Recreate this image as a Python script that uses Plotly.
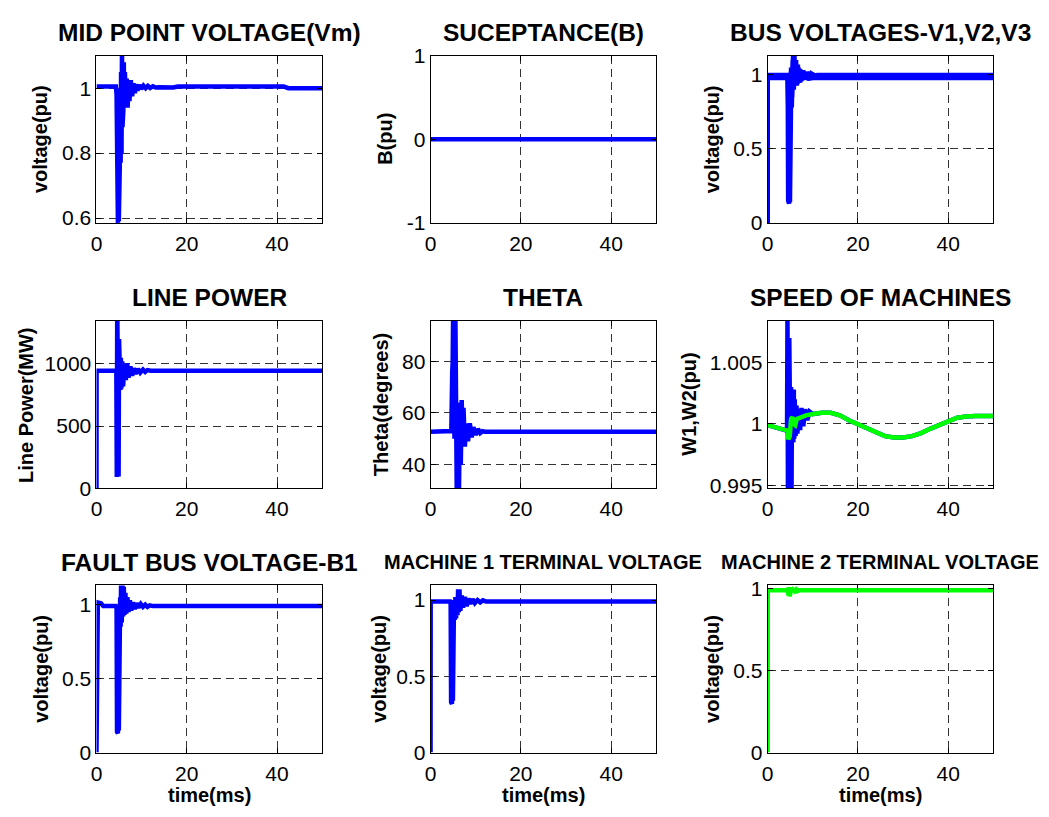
import plotly.graph_objects as go

# ---------------------------------------------------------------
# Simulation traces (time in ms, values per panel)
# ---------------------------------------------------------------
mid_point_v = [(0, 1.005), (4.3, 1.005), (4.45, 0.98), (4.55, 0.60), (4.65, 0.97), (4.75, 0.585),
               (4.85, 0.99), (4.95, 0.59), (5.05, 0.80), (5.15, 0.75), (5.25, 1.00), (5.35, 0.77),
               (5.45, 1.05), (5.55, 0.80), (5.65, 1.12), (5.75, 0.88), (5.85, 1.12), (5.95, 0.93),
               (6.05, 1.08), (6.15, 0.95), (6.3, 1.05), (6.5, 0.94), (6.7, 1.03), (6.9, 0.94),
               (7.1, 1.02), (7.3, 0.96), (7.6, 1.025), (7.9, 0.975), (8.2, 1.015), (8.5, 0.985),
               (8.8, 1.012), (9.1, 0.993), (9.5, 1.010), (9.9, 0.998), (10.4, 1.008), (10.9, 1.000),
               (11.4, 1.007), (11.9, 1.001), (12.5, 1.006), (13.1, 1.002), (13.8, 1.003), (17.0, 1.002),
               (18.0, 1.005), (41.5, 1.005), (42.5, 1.0), (50, 1.0)]

susceptance = [(0, 0.0), (50, 0.0)]

bus_v1 = [(0, 0), (0.02, 1.0), (4.3, 1.0), (4.45, 0.98), (4.55, 0.15), (4.65, 0.9), (4.75, 0.13),
          (4.85, 0.95), (4.95, 0.14), (5.05, 0.8), (5.15, 0.76), (5.25, 1.0), (5.35, 0.78),
          (5.45, 1.1), (5.55, 0.85), (5.65, 1.15), (5.8, 0.92), (5.95, 1.13), (6.1, 0.93),
          (6.3, 1.1), (6.5, 0.93), (6.7, 1.07), (6.9, 0.95), (7.2, 1.04), (7.5, 0.96),
          (7.9, 1.03), (8.3, 0.975), (8.7, 1.02), (9.1, 0.985), (9.6, 1.01), (10.2, 0.995),
          (11, 1.0), (50, 1.0)]
bus_v2 = [(0, 0), (0.02, 0.99), (4.4, 0.99), (4.6, 0.75), (4.8, 1.0), (5.0, 0.76), (5.2, 1.05),
          (5.4, 0.85), (5.6, 1.1), (5.8, 0.9), (6.1, 1.08), (6.4, 0.93), (6.8, 1.05), (7.2, 0.95),
          (7.7, 1.03), (8.2, 0.97), (8.8, 1.015), (9.4, 0.985), (10, 1.005), (11, 0.99), (50, 0.99)]
bus_v3 = [(0, 0), (0.02, 0.98), (4.5, 0.98), (4.8, 0.9), (5.2, 1.02), (5.7, 0.94), (6.3, 1.0),
          (7, 0.96), (8, 0.99), (9, 0.975), (10, 0.98), (50, 0.98)]

line_power = [(0, 0), (0.02, 945), (4.4, 945), (4.5, 90), (4.6, 1500), (4.7, 100), (4.8, 1400),
              (4.9, 95), (5.0, 1200), (5.1, 800), (5.2, 1180), (5.3, 790), (5.4, 1050), (5.5, 800),
              (5.7, 1020), (5.9, 820), (6.2, 1000), (6.5, 870), (6.8, 1005), (7.1, 890), (7.5, 980),
              (7.9, 905), (8.3, 965), (8.7, 920), (9.2, 960), (9.7, 930), (10.3, 955), (10.8, 935),
              (11.3, 950), (12, 945), (50, 945)]

theta = [(0, 52.7), (4.4, 52.7), (4.6, 53), (4.8, 76), (4.9, 80), (5.0, 98), (5.1, 60), (5.2, 98),
         (5.3, 50), (5.5, 98), (5.6, 40), (5.8, 30), (5.9, 64), (6.0, 30), (6.2, 60), (6.3, 30),
         (6.5, 64), (6.7, 40), (6.9, 65), (7.1, 47), (7.3, 62), (7.6, 47), (7.9, 56), (8.3, 49),
         (8.7, 56), (9.1, 50.5), (9.5, 54.5), (10, 51.5), (10.5, 53.8), (11, 52.2), (11.5, 52.9),
         (12, 52.7), (50, 52.7)]

speed_w2 = [(0, 0.9999), (2, 0.9997), (4, 0.99948), (4.4, 0.99945), (4.6, 0.99875), (4.9, 0.9990),
            (5.2, 1.0004), (5.5, 1.00055), (5.8, 1.0), (6.1, 0.9999), (6.5, 1.0004), (7.5, 1.0006),
            (8.5, 1.0007), (10, 1.0008), (12, 1.0009), (14, 1.0009), (16, 1.0007), (18, 1.0003),
            (20, 0.99995), (22, 0.9996), (24, 0.99925), (26, 0.9990), (28, 0.9989), (30, 0.9989),
            (32, 0.9990), (34, 0.99925), (36, 0.9996), (38, 0.9999), (40, 1.0002), (42, 1.0005),
            (44, 1.0006), (46, 1.00065), (50, 1.00065)]
speed_w1_transient = [(0, 0.9999), (2, 0.9997), (4, 0.99948), (4.3, 0.99945), (4.4, 1.009),
                      (4.5, 0.9945), (4.6, 1.009), (4.7, 0.9990), (4.8, 1.0070), (4.9, 0.9945),
                      (5.0, 1.0065), (5.1, 0.9945), (5.2, 1.0030), (5.3, 0.9945), (5.4, 1.0028),
                      (5.5, 0.9990), (5.6, 1.0025), (5.7, 0.9985), (5.8, 1.0028), (5.9, 0.9988),
                      (6.0, 1.0020), (6.2, 0.9990), (6.4, 1.0015), (6.6, 0.9992), (6.9, 1.0012),
                      (7.2, 0.9995), (7.5, 1.0013), (7.9, 0.9998), (8.3, 1.0012), (8.8, 1.0003),
                      (9.3, 1.0010)]
# after the transient W1 runs on top of W2
speed_w1 = speed_w1_transient + [p for p in speed_w2 if p[0] >= 10]

fault_bus_v = [(0, 0), (0.05, 1.0), (0.3, 1.015), (1.0, 1.01), (1.5, 0.99), (4.3, 0.99), (4.45, 0.98),
               (4.55, 0.14), (4.65, 0.95), (4.75, 0.13), (4.85, 0.98), (4.95, 0.15), (5.05, 0.85),
               (5.15, 0.83), (5.25, 1.05), (5.35, 0.85), (5.45, 1.15), (5.6, 0.88), (5.75, 1.15),
               (5.9, 0.92), (6.05, 1.12), (6.2, 0.93), (6.4, 1.08), (6.6, 0.94), (6.85, 1.05),
               (7.1, 0.95), (7.4, 1.03), (7.7, 0.96), (8.1, 1.015), (8.5, 0.97), (8.9, 1.01),
               (9.3, 0.98), (9.8, 1.005), (10.3, 0.985), (10.8, 1.0), (11.3, 0.985), (11.8, 0.995),
               (12.5, 0.99), (50, 0.99)]

machine1_v = [(0, 0), (0.03, 0.99), (4.3, 0.99), (4.45, 0.97), (4.55, 0.33), (4.65, 0.92), (4.75, 0.32),
              (4.85, 0.95), (4.95, 0.34), (5.05, 0.88), (5.2, 1.0), (5.35, 0.87), (5.5, 1.02),
              (5.65, 0.88), (5.8, 1.0), (5.95, 0.9), (6.1, 1.07), (6.25, 0.92), (6.4, 1.07),
              (6.6, 0.93), (6.9, 1.03), (7.2, 0.95), (7.6, 1.02), (8.0, 0.96), (8.4, 1.01),
              (8.8, 0.975), (9.3, 1.005), (9.8, 0.98), (10.4, 1.0), (11, 0.985), (11.6, 0.998),
              (12.3, 0.99), (50, 0.99)]

machine2_v = [(0, 0), (0.03, 0.99), (4.5, 0.99), (4.6, 0.96), (4.7, 1.01), (4.8, 0.955), (4.9, 1.01),
              (5.0, 0.965), (5.15, 1.0), (5.3, 0.985), (5.6, 0.995), (6.0, 0.985), (6.3, 0.995),
              (6.6, 0.985), (7.0, 0.99), (50, 0.99)]

# ---------------------------------------------------------------
# Panel definitions
# ---------------------------------------------------------------
BLUE = "#0000FF"
GREEN = "#00FF00"

panels = [
    dict(title="MID POINT VOLTAGE(Vm)", ylabel="voltage(pu)", yrange=[0.585, 1.1],
         yticks=[0.6, 0.8, 1], series=[(mid_point_v, BLUE)], tsize=24.5),
    dict(title="SUCEPTANCE(B)", ylabel="B(pu)", yrange=[-1, 1],
         yticks=[-1, 0, 1], series=[(susceptance, BLUE)], tsize=24.5),
    dict(title="BUS VOLTAGES-V1,V2,V3", ylabel="voltage(pu)", yrange=[0, 1.13],
         yticks=[0, 0.5, 1], series=[(bus_v3, BLUE), (bus_v2, BLUE), (bus_v1, BLUE)], tsize=24.5),
    dict(title="LINE POWER", ylabel="Line Power(MW)", yrange=[0, 1345],
         yticks=[0, 500, 1000], series=[(line_power, BLUE)], tsize=24.5),
    dict(title="THETA", ylabel="Theta(degrees)", yrange=[30.9, 95.5],
         yticks=[40, 60, 80], series=[(theta, BLUE)], tsize=24.5),
    dict(title="SPEED OF MACHINES", ylabel="W1,W2(pu)", yrange=[0.99476, 1.00838],
         yticks=[0.995, 1, 1.005], series=[(speed_w1, BLUE), (speed_w2, GREEN)], tsize=24.5),
    dict(title="FAULT BUS VOLTAGE-B1", ylabel="voltage(pu)", yrange=[0, 1.13],
         yticks=[0, 0.5, 1], series=[(fault_bus_v, BLUE)], tsize=24.5),
    dict(title="MACHINE 1 TERMINAL VOLTAGE", ylabel="voltage(pu)", yrange=[0, 1.096],
         yticks=[0, 0.5, 1], series=[(machine1_v, BLUE)], tsize=20),
    dict(title="MACHINE 2 TERMINAL VOLTAGE", ylabel="voltage(pu)", yrange=[0, 1.02],
         yticks=[0, 0.5, 1], series=[(machine2_v, GREEN)], tsize=20),
]

W, H = 1049, 817
col_left = [91, 427, 766]
row_top = [45, 318, 590]
box_w, box_h = 227, 172
ylabel_x = [[35, 381.7, 710], [19.5, 376.7, 687], [35, 375, 710]]

FONT = "Liberation Sans, Arial, Helvetica, sans-serif"
TICK_SIZE = 21

fig = go.Figure()
annotations = []
layout = dict(
    width=W, height=H, margin=dict(l=0, r=0, t=0, b=0),
    paper_bgcolor="white", plot_bgcolor="white", showlegend=False,
    font=dict(family=FONT, size=TICK_SIZE, color="black"),
)

for i, p in enumerate(panels):
    r, c = divmod(i, 3)
    n = "" if i == 0 else str(i + 1)
    x0 = col_left[c] / W
    x1 = (col_left[c] + box_w) / W
    y1 = 1 - row_top[r] / H
    y0 = 1 - (row_top[r] + box_h) / H

    for pts, color in p["series"]:
        fig.add_trace(go.Scatter(
            x=[q[0] for q in pts], y=[q[1] for q in pts], mode="lines",
            line=dict(color=color, width=4.5), xaxis="x" + n, yaxis="y" + n,
            hoverinfo="skip"))

    common = dict(showline=True, linecolor="black", linewidth=1, mirror="ticks",
                  ticks="inside", ticklen=5, tickcolor="black", zeroline=False,
                  showgrid=True, gridcolor="#333333", gridwidth=1, griddash="8px,5px",
                  tickfont=dict(family=FONT, size=TICK_SIZE, color="black"))
    layout["xaxis" + n] = dict(domain=[x0, x1], range=[0, 50], anchor="y" + n,
                               tickvals=[0, 20, 40], ticktext=["0", "20", "40"],
                               ticklabelstandoff=2, **common)
    layout["yaxis" + n] = dict(domain=[y0, y1], range=p["yrange"], anchor="x" + n,
                               tickvals=p["yticks"], ticktext=["%g" % v for v in p["yticks"]],
                               **common)

    # panel title
    cx = (col_left[c] + box_w / 2) / W
    ty = row_top[r] - 24
    annotations.append(dict(text="<b>%s</b>" % p["title"], x=cx, y=1 - ty / H,
                            xref="paper", yref="paper", xanchor="center", yanchor="middle",
                            showarrow=False, font=dict(family=FONT, size=p["tsize"], color="black")))
    # y label
    ly = row_top[r] + box_h / 2
    annotations.append(dict(text="<b>%s</b>" % p["ylabel"], x=ylabel_x[r][c] / W, y=1 - ly / H,
                            xref="paper", yref="paper", xanchor="center", yanchor="middle",
                            textangle=-90, showarrow=False,
                            font=dict(family=FONT, size=20, color="black")))
    # x label on the bottom row
    if r == 2:
        annotations.append(dict(text="<b>time(ms)</b>", x=cx, y=1 - 806 / H,
                                xref="paper", yref="paper", xanchor="center", yanchor="middle",
                                showarrow=False, font=dict(family=FONT, size=20, color="black")))

layout["annotations"] = annotations
fig.update_layout(**layout)
fig.write_html("out.html")
